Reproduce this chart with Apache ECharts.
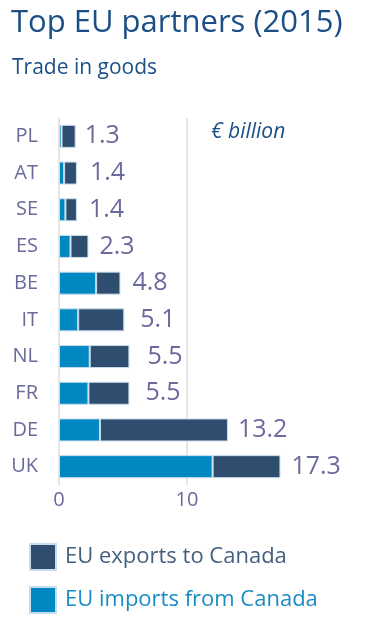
<!DOCTYPE html>
<html>
<head>
<meta charset="utf-8">
<script src="https://cdn.jsdelivr.net/npm/echarts@6/dist/echarts.min.js"></script>
<style>
	html, body { margin: 0; padding: 0; background: #fff; }
	#chart { width: 376px; height: 642px; }
</style>
</head>
<body>
<div id="chart"></div>
<script>
	// top to bottom, as in the picture
	var countries = ['PL', 'AT', 'SE', 'ES', 'BE', 'IT', 'NL', 'FR', 'DE', 'UK'];
	var imports = [0.2, 0.4, 0.5, 0.9, 2.9, 1.5, 2.4, 2.3, 3.2, 12.0];
	var exports = [1.1, 1.0, 0.9, 1.4, 1.9, 3.6, 3.1, 3.2, 10.0, 5.3];
	var totals = ['1.3', '1.4', '1.4', '2.3', '4.8', '5.1', '5.5', '5.5', '13.2', '17.3'];
	// small extra push for the value labels, they are not all at the same distance
	var labelPush = [9, 13, 12, 11, 12, 16, 18, 16, 10, 11];

	var fontFamily = '"Open Sans", sans-serif';
	var labelColor = '#6a6a9c';
	var exportColor = '#2f4d6e';
	var importColor = '#0088c3';

	var myChart = echarts.init(document.getElementById('chart'));
	var option = {
		animation: false,
		textStyle: { fontFamily: fontFamily },
		title: [{
			text: 'Top EU partners (2015)',
			left: 6,
			top: 3,
			textStyle: { color: '#1c4f86', fontSize: 31, fontWeight: 'normal', fontFamily: fontFamily }
		}, {
			text: 'Trade in goods',
			left: 7,
			top: 53,
			textStyle: { color: '#1c4f86', fontSize: 21, fontWeight: 'normal', fontFamily: fontFamily }
		}, {
			text: '€ billion',
			left: 206,
			top: 117,
			textStyle: { color: '#1c4f86', fontSize: 21, fontStyle: 'italic', fontWeight: 'normal', fontFamily: fontFamily }
		}],
		legend: {
			orient: 'vertical',
			left: 24,
			top: 538,
			itemWidth: 26,
			itemHeight: 26,
			itemGap: 15,
			icon: 'rect',
			data: ['EU exports to Canada', 'EU imports from Canada'],
			formatter: function (name) {
				return name === 'EU exports to Canada' ? '{a|' + name + '}' : '{b|' + name + '}';
			},
			textStyle: {
				fontSize: 22,
				fontFamily: fontFamily,
				padding: [0, 0, 0, 4],
				rich: {
					a: { color: '#44607f', fontSize: 22, fontFamily: fontFamily },
					b: { color: '#1a8cc4', fontSize: 22, fontFamily: fontFamily }
				}
			}
		},
		grid: {
			left: 59,
			right: 61,
			top: 118,
			bottom: 157,
			containLabel: false
		},
		xAxis: {
			type: 'value',
			min: 0,
			max: 20,
			interval: 10,
			axisLine: { show: false },
			axisTick: { show: false },
			axisLabel: {
				color: labelColor,
				fontSize: 20,
				margin: 5,
				showMaxLabel: false,
				fontFamily: fontFamily
			},
			splitLine: {
				show: true,
				lineStyle: { color: ['transparent', '#dedede', 'transparent'], width: 1.5 }
			}
		},
		yAxis: {
			type: 'category',
			inverse: true,
			data: countries,
			axisTick: { show: false },
			axisLine: { show: true, lineStyle: { color: '#dedede', width: 1.5 } },
			axisLabel: {
				color: labelColor,
				fontSize: 20,
				margin: 21,
				fontFamily: fontFamily
			}
		},
		series: [{
			name: 'EU imports from Canada',
			type: 'bar',
			stack: 'trade',
			barWidth: 23,
			data: imports,
			itemStyle: { color: importColor, borderColor: '#c8dcec', borderWidth: 1 }
		}, {
			name: 'EU exports to Canada',
			type: 'bar',
			stack: 'trade',
			barWidth: 23,
			data: exports.map(function (v, i) {
				return {
					value: v,
					label: { distance: labelPush[i] }
				};
			}),
			itemStyle: { color: exportColor, borderColor: '#c8dcec', borderWidth: 1 },
			label: {
				show: true,
				position: 'right',
				color: labelColor,
				fontSize: 25,
				fontFamily: fontFamily,
				formatter: function (p) {
					return totals[p.dataIndex];
				}
			}
		}]
	};
	myChart.setOption(option);
</script>
</body>
</html>
